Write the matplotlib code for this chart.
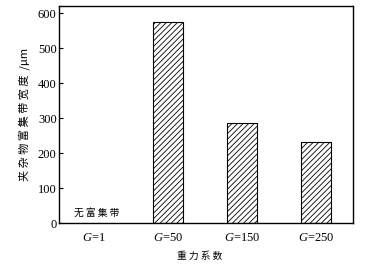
import matplotlib
matplotlib.use('Agg')
import matplotlib.pyplot as plt

# 重力系数 vs 夹杂物富集带宽度
categories = ['$G$=1', '$G$=50', '$G$=150', '$G$=250']
widths = [0, 575, 287, 231]
note = '无 富 集 带'

plt.rcParams['font.family'] = ['Liberation Serif', 'Noto Sans CJK SC']
plt.rcParams['mathtext.fontset'] = 'custom'
plt.rcParams['mathtext.it'] = 'Liberation Serif:italic'
plt.rcParams['mathtext.rm'] = 'Liberation Serif'
plt.rcParams['hatch.linewidth'] = 0.6

fig = plt.figure(figsize=(3.67, 2.69), dpi=100)
ax = fig.add_axes([0.162, 0.170, 0.800, 0.809])

x = list(range(len(categories)))
for i, w in zip(x, widths):
    if w > 0:
        ax.bar(i, w, width=0.4, facecolor='white', edgecolor='black',
               hatch='//////', linewidth=0.8)

ax.text(0.03, 30, note, ha='center', va='center', fontsize=7,
        family=['Noto Sans CJK SC'])

ax.set_xlim(-0.47, 3.5)
ax.set_ylim(0, 622)
ax.set_yticks([0, 100, 200, 300, 400, 500, 600])
ax.set_xticks(x)
ax.set_xticklabels(categories, fontsize=9)
ax.tick_params(axis='x', length=0, pad=6)
ax.tick_params(axis='y', direction='in', length=3, labelsize=9, pad=2)
for s in ax.spines.values():
    s.set_linewidth(1.0)

ax.set_xlabel('重 力 系 数', fontsize=7, family=['Noto Sans CJK SC'])
ax.xaxis.set_label_coords(0.478, -0.125)
ax.set_ylabel('夹 杂 物 富 集 带 宽 度  /μm', fontsize=8,
              family=['Noto Sans CJK SC', 'Liberation Serif'])
ax.yaxis.set_label_coords(-0.10, 0.5)

fig.savefig('out.png', dpi=100)
